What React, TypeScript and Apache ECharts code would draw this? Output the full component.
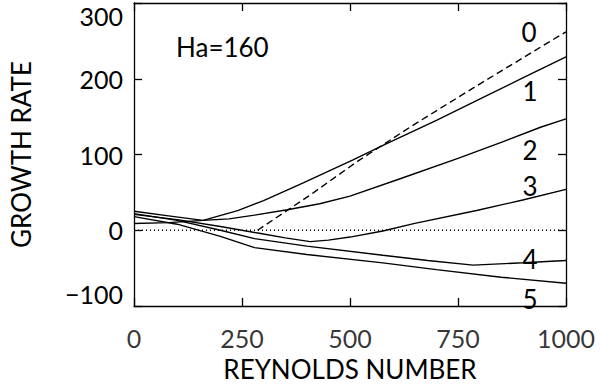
import React, { useEffect, useRef } from "react";
import * as echarts from "echarts";

// Reynolds number samples and growth rates for each mode (Ha = 160)
const mode0: [number, number][] = [[286, 0], [404, 45], [520, 92], [644, 138], [800, 193], [1000, 262]];
const mode1: [number, number][] = [[0, 9], [80, 10], [160, 13], [240, 26], [300, 39], [393, 63], [507, 93], [580, 113], [700, 145], [800, 173], [900, 201], [1000, 229]];
const mode2: [number, number][] = [[0, 25], [80, 19], [160, 13], [220, 15], [279, 20], [355, 27], [430, 35], [500, 45], [621, 69], [750, 95], [850, 116], [941, 136], [1000, 147]];
const mode3: [number, number][] = [[0, 21], [100, 14], [200, 5], [290, -4], [350, -10], [408, -15], [450, -13], [500, -9], [576, -1], [650, 9], [793, 26], [900, 40], [1000, 54]];
const mode4: [number, number][] = [[0, 22], [100, 13], [200, 0], [279, -11], [400, -21], [576, -33], [680, -40], [785, -46], [900, -43], [1000, -40]];
const mode5: [number, number][] = [[0, 18], [100, 8], [200, -8], [279, -23], [400, -32], [576, -43], [700, -52], [850, -62], [1000, -70]];
const zeroLine: [number, number][] = [[0, 0], [1000, 0]];
const modeNames = ["0", "1", "2", "3", "4", "5"];
const xTicks = [0, 250, 500, 750, 1000];
const yTicks = [-100, 0, 100, 200, 300];

const FONT = "Lato, 'DejaVu Sans', sans-serif";

export default function App() {
  const ref = useRef<HTMLDivElement>(null);
  useEffect(() => {
    if (!ref.current) return;
    const chart = echarts.init(ref.current, undefined, { renderer: "svg" });
    const axisLine = () => ({ show: true, onZero: false, lineStyle: { color: "#000", width: 1.3 } });
    const axisTick = () => ({ show: true, inside: true, length: 8, lineStyle: { color: "#000", width: 1.3 } });
    const fmt = (v: number) => (v < 0 ? "\u2212" + Math.abs(v) : String(v));
    const lineSeries = (data: [number, number][], type: any = "solid", width = 1.4) => ({
      type: "line",
      data,
      showSymbol: false,
      symbol: "none",
      smooth: false,
      lineStyle: { color: "#000", width, type },
      xAxisIndex: 0,
      yAxisIndex: 0,
    });
    const labelPos = [
      [529, 31.5],
      [530, 91],
      [530, 149.5],
      [530, 186],
      [530, 258.5],
      [530, 299],
    ];
    chart.setOption({
      animation: false,
      backgroundColor: "#fff",
      textStyle: { fontFamily: FONT },
      grid: { left: 128, right: 34, top: 3, bottom: 75, containLabel: false },
      xAxis: [
        {
          type: "value",
          min: xTicks[0],
          max: xTicks[xTicks.length - 1],
          interval: 250,
          position: "bottom",
          axisLine: axisLine(),
          axisTick: axisTick(),
          splitLine: { show: false },
          axisLabel: { show: false },
          name: "REYNOLDS NUMBER",
          nameLocation: "middle",
          nameGap: 50,
          nameTextStyle: { color: "#000", fontSize: 26, fontFamily: FONT },
        },
        {
          type: "value",
          min: xTicks[0],
          max: xTicks[xTicks.length - 1],
          interval: 250,
          position: "top",
          axisLine: axisLine(),
          axisTick: axisTick(),
          splitLine: { show: false },
          axisLabel: { show: false },
        },
      ],
      yAxis: [
        {
          type: "value",
          min: yTicks[0],
          max: yTicks[yTicks.length - 1],
          interval: 100,
          position: "left",
          axisLine: axisLine(),
          axisTick: axisTick(),
          splitLine: { show: false },
          axisLabel: {
            color: "#000",
            fontSize: 25,
            fontFamily: FONT,
            margin: 11,
            formatter: fmt,
            verticalAlignMaxLabel: "top",
            verticalAlignMinLabel: "bottom",
          },
          name: "GROWTH RATE",
          nameLocation: "middle",
          nameGap: 100,
          nameTextStyle: { color: "#000", fontSize: 26, fontFamily: FONT },
        },
        {
          type: "value",
          min: yTicks[0],
          max: yTicks[yTicks.length - 1],
          interval: 100,
          position: "right",
          axisLine: axisLine(),
          axisTick: axisTick(),
          splitLine: { show: false },
          axisLabel: { show: false },
        },
      ],
      graphic: [
        {
          type: "text",
          left: 176,
          top: 34,
          style: { text: "Ha=160", fontSize: 26, fontFamily: FONT, fill: "#000" },
        },
        ...modeNames.map((n, i) => ({
          type: "text",
          x: labelPos[i][0],
          y: labelPos[i][1],
          style: {
            text: n,
            fontSize: 26,
            fontFamily: FONT,
            fill: "#000",
            align: "center",
            verticalAlign: "middle",
          },
        })),
      ],
      series: [
        lineSeries(zeroLine, [1, 3], 1.3),
        lineSeries(mode0, [7, 4], 1.4),
        lineSeries(mode1),
        lineSeries(mode2),
        lineSeries(mode3),
        lineSeries(mode4),
        lineSeries(mode5),
        {
          type: "scatter",
          data: xTicks.map((v) => [v, yTicks[0]]),
          symbolSize: 0,
          silent: true,
          clip: false,
          label: {
            show: true,
            position: "bottom",
            distance: 19,
            color: "#000",
            fontSize: 25,
            fontFamily: FONT,
            formatter: (p: any) => fmt(p.value[0]),
          },
        },
      ],
    });
    return () => chart.dispose();
  }, []);
  return (
    <div
      ref={ref}
      style={{ position: "fixed", left: 0, top: 0, width: 600, height: 387, background: "#fff" }}
    />
  );
}
